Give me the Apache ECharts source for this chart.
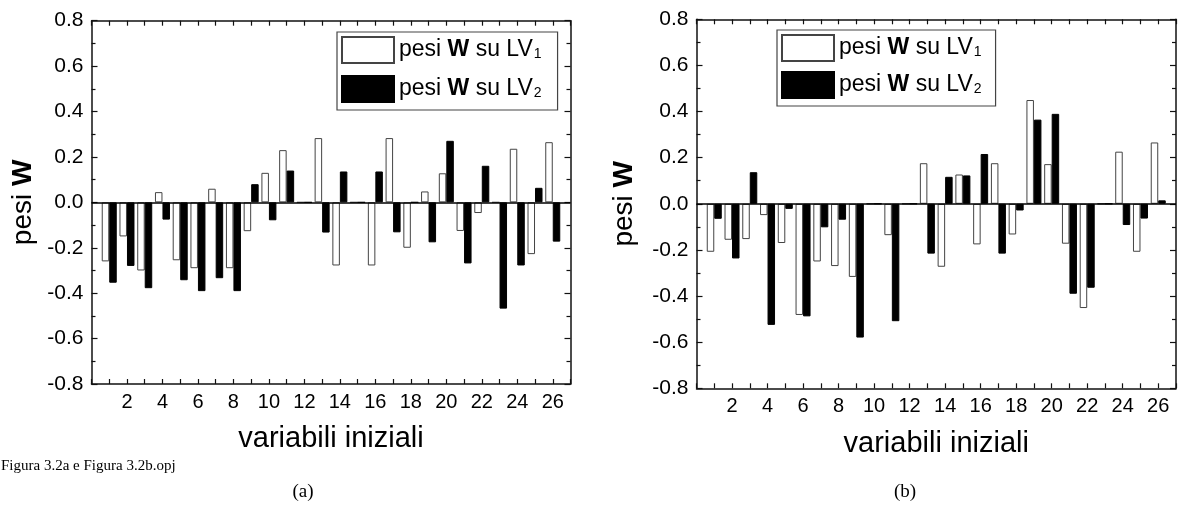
<!DOCTYPE html>
<html>
<head>
<meta charset="utf-8">
<script src="https://cdn.jsdelivr.net/npm/echarts@6/dist/echarts.min.js"></script>
<style>
html,body{margin:0;padding:0;background:#fff;}
#c{width:1179px;height:510px;}
</style>
</head>
<body>
<div id="c"></div>
<script>
// ---- data ----
var variables = [1,2,3,4,5,6,7,8,9,10,11,12,13,14,15,16,17,18,19,20,21,22,23,24,25,26];
var xTickLabels = [2,4,6,8,10,12,14,16,18,20,22,24,26];
var yTickLabels = [-0.8,-0.6,-0.4,-0.2,0.0,0.2,0.4,0.6,0.8];
// (a)
var aLV1 = [-0.26,-0.15,-0.30,0.045,-0.255,-0.29,0.06,-0.29,-0.127,0.13,0.23,0,0.283,-0.278,0,-0.278,0.283,-0.20,0.048,0.128,-0.126,-0.047,0,0.236,-0.228,0.265];
var aLV2 = [-0.354,-0.28,-0.378,-0.076,-0.343,-0.391,-0.334,-0.391,0.08,-0.079,0.14,0,-0.133,0.136,0,0.136,-0.132,0,-0.176,0.271,-0.269,0.161,-0.468,-0.278,0.064,-0.173];
// (b)
var bLV1 = [-0.208,-0.156,-0.153,-0.049,-0.17,-0.482,-0.25,-0.27,-0.317,0,-0.136,0,0.176,-0.273,0.127,-0.176,0.176,-0.133,0.45,0.172,-0.173,-0.452,0,0.226,-0.208,0.266];
var bLV2 = [-0.065,-0.237,0.137,-0.525,-0.022,-0.488,-0.102,-0.069,-0.58,0,-0.509,0,-0.216,0.117,0.123,0.216,-0.216,-0.029,0.365,0.39,-0.39,-0.364,0,-0.092,-0.064,0.015];

function pairs(vals){ return variables.map(function(v,i){ return [v, vals[i]]; }); }

var FONT = "'Liberation Sans', Arial, Helvetica, sans-serif";
var SERIF = "'Liberation Serif', 'Times New Roman', serif";
var AX = '#111';

function xAxisDef(grid, pos, withLabels, nameGap){
  var o = {
    gridIndex: grid, type: 'value', position: pos, min: 0, max: 27, interval: 1,
    axisLine: {show: true, onZero: false, lineStyle: {color: AX, width: 1.5}},
    axisTick: {show: true, inside: true, length: 5, lineStyle: {color: AX, width: 1.2}},
    splitLine: {show: false},
    axisLabel: {show: withLabels, fontFamily: FONT, fontSize: 20, color: '#000', margin: 8,
      formatter: function(v){ return xTickLabels.indexOf(v) >= 0 ? String(v) : ''; }},
    showMinLabel: true, showMaxLabel: true
  };
  if (withLabels) {
    o.name = 'variabili iniziali';
    o.nameLocation = 'middle';
    o.nameGap = nameGap;
    o.nameTextStyle = {fontFamily: FONT, fontSize: 29, color: '#000'};
  }
  return o;
}
function yAxisDef(grid, pos, withLabels, nameGap){
  var o = {
    gridIndex: grid, type: 'value', position: pos, min: -0.8, max: 0.8, interval: 0.2,
    axisLine: {show: true, onZero: false, lineStyle: {color: AX, width: 1.5}},
    axisTick: {show: true, inside: true, length: 6, lineStyle: {color: AX, width: 1.2}},
    minorTick: {show: true, splitNumber: 2, length: 4, lineStyle: {color: AX, width: 1.2}},
    splitLine: {show: false},
    axisLabel: {show: withLabels, fontFamily: FONT, fontSize: 21, color: '#000', margin: 8,
      formatter: function(v){ return (Math.abs(v) < 1e-9 ? 0 : v).toFixed(1); }}
  };
  if (withLabels) {
    o.name = 'pesi {b|W}';
    o.nameLocation = 'middle';
    o.nameGap = nameGap;
    o.nameRotate = 90;
    o.nameTextStyle = {fontFamily: FONT, fontSize: 28, color: '#000',
      rich: {b: {fontFamily: FONT, fontSize: 28, fontWeight: 'bold', color: '#000'}}};
  }
  return o;
}

function barSeries(name, xi, yi, vals, fill, border, withZero){
  var s = {
    name: name, type: 'bar', xAxisIndex: xi, yAxisIndex: yi,
    data: pairs(vals), barWidth: 7.5, barGap: '0%',
    itemStyle: {color: fill, borderColor: border, borderWidth: 1},
    emphasis: {disabled: true}, animation: false
  };
  if (withZero) {
    s.markLine = {silent: true, symbol: ['none','none'], animation: false,
      label: {show: false}, lineStyle: {color: '#000', width: 1.5, type: 'solid'},
      data: [{yAxis: 0}]};
  }
  return s;
}

function legendDef(names, left, top, gap, padRight){
  return {
    data: names, orient: 'vertical', left: left, top: top,
    itemWidth: 52, itemHeight: 26, itemGap: gap,
    padding: [4, padRight, 7, 4],
    borderColor: '#444', borderWidth: 1.2,
    icon: 'rect', selectedMode: false,
    formatter: function(n){ return 'pesi {b|W} su LV{s|' + n.slice(-1) + '}'; },
    textStyle: {fontFamily: FONT, fontSize: 23, color: '#000', lineHeight: 23,
      rich: {
        b: {fontFamily: FONT, fontSize: 23, fontWeight: 'bold', color: '#000', lineHeight: 23},
        s: {fontFamily: FONT, fontSize: 14, color: '#000', lineHeight: 10, verticalAlign: 'bottom', padding: [0,0,0,1]}
      }}
  };
}

var chart = echarts.init(document.getElementById('c'), null, {renderer: 'canvas'});
chart.setOption({
  animation: false,
  backgroundColor: '#fff',
  grid: [
    {left: 91.5, top: 20.7, width: 479, height: 363.3},
    {left: 696.5, top: 19.3, width: 484.7, height: 369}
  ],
  xAxis: [
    xAxisDef(0, 'bottom', true, 40), xAxisDef(0, 'top', false),
    xAxisDef(1, 'bottom', true, 41), xAxisDef(1, 'top', false)
  ],
  yAxis: [
    yAxisDef(0, 'left', true, 54), yAxisDef(0, 'right', false),
    yAxisDef(1, 'left', true, 58), yAxisDef(1, 'right', false)
  ],
  legend: [
    legendDef(['a LV1', 'a LV2'], 337, 32, 11, 16),
    legendDef(['b LV1', 'b LV2'], 777, 30, 9, 14)
  ],
  series: [
    barSeries('a LV1', 0, 0, aLV1, '#fff', '#444', false),
    barSeries('a LV2', 0, 0, aLV2, '#000', '#000', true),
    barSeries('b LV1', 2, 2, bLV1, '#fff', '#444', false),
    barSeries('b LV2', 2, 2, bLV2, '#000', '#000', true)
  ],
  graphic: [
    {type: 'text', left: 1, top: 459, style: {text: 'Figura 3.2a e Figura 3.2b.opj', font: "15px " + SERIF, fill: '#000'}},
    {type: 'text', x: 303, y: 492, style: {text: '(a)', font: "19px " + SERIF, fill: '#000', align: 'center', verticalAlign: 'middle'}},
    {type: 'text', x: 905, y: 492, style: {text: '(b)', font: "19px " + SERIF, fill: '#000', align: 'center', verticalAlign: 'middle'}}
  ]
});
</script>
</body>
</html>
